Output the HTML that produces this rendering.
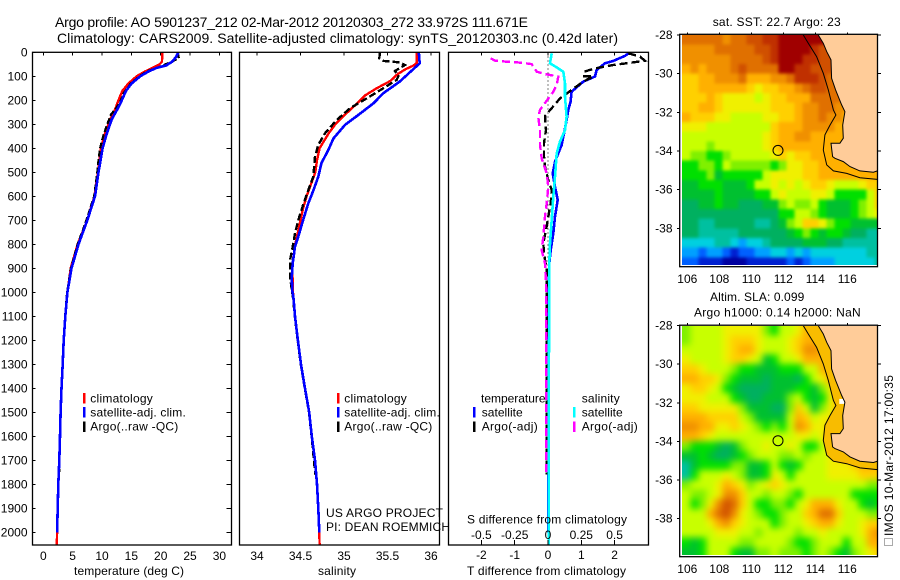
<!DOCTYPE html>
<html>
<head>
<meta charset="utf-8">
<title>Argo profile 5901237_212</title>
<style>
html,body{margin:0;padding:0;background:#fff;}
svg{display:block;}
text{font-family:"Liberation Sans",Arial,sans-serif;font-size:12px;fill:#000;}
.ttl{font-size:14px;}
</style>
</head>
<body>
<svg id="fig" xmlns="http://www.w3.org/2000/svg" width="900" height="580" viewBox="0 0 900 580">
<defs>
<clipPath id="clip1"><rect x="682" y="35" width="195.5" height="230"/></clipPath>
<clipPath id="clip2"><rect x="682" y="326" width="195.5" height="229"/></clipPath>
<clipPath id="clipT"><rect x="32" y="52" width="200" height="493"/></clipPath>
<clipPath id="clipS"><rect x="239" y="52" width="200" height="493"/></clipPath>
<clipPath id="clipD"><rect x="448" y="52" width="200" height="493"/></clipPath>
<filter id="blurSst" filterUnits="userSpaceOnUse" x="650" y="0" width="250" height="300" color-interpolation-filters="sRGB"><feGaussianBlur stdDeviation="1.6"/></filter>
<filter id="blurSla" filterUnits="userSpaceOnUse" x="650" y="290" width="250" height="290" color-interpolation-filters="sRGB"><feGaussianBlur stdDeviation="3.4"/></filter>
</defs>
<rect width="900" height="580" fill="#fff"/>

<text class="ttl" x="55" y="27" textLength="473">Argo profile: AO 5901237_212 02-Mar-2012 20120303_272 33.972S 111.671E</text>
<text class="ttl" x="57" y="43" textLength="561">Climatology: CARS2009. Satellite-adjusted climatology: synTS_20120303.nc (0.42d later)</text>

<g id="maps"></g>
<g id="panels"></g>

<text x="74" y="575" textLength="110">temperature (deg C)</text>
<text x="318" y="575" textLength="38">salinity</text>
<text x="467" y="575" textLength="159">T difference from climatology</text>
<text x="467" y="523.5" textLength="160">S difference from climatology</text>

<g>
<rect x="83" y="393" width="2.5" height="10.5" fill="#f00"/>
<rect x="83" y="407" width="2.5" height="10.5" fill="#00f"/>
<rect x="83" y="421.5" width="2.5" height="10.5" fill="#000"/>
<text x="90.3" y="402.5" textLength="62.5">climatology</text>
<text x="90.3" y="416.5" textLength="95.5">satellite-adj. clim.</text>
<text x="90.3" y="430.5" textLength="88">Argo(..raw -QC)</text>
</g>
<g>
<rect x="337" y="393" width="2.5" height="10.5" fill="#f00"/>
<rect x="337" y="407" width="2.5" height="10.5" fill="#00f"/>
<rect x="337" y="421.5" width="2.5" height="10.5" fill="#000"/>
<text x="344.3" y="402.5" textLength="62.5">climatology</text>
<text x="344.3" y="416.5" textLength="95.5">satellite-adj. clim.</text>
<text x="344.3" y="430.5" textLength="88">Argo(..raw -QC)</text>
</g>
<g>
<text x="481" y="402.5" textLength="64.5">temperature</text>
<text x="581.7" y="402.5" textLength="38">salinity</text>
<rect x="473" y="407" width="2.5" height="10.5" fill="#00f"/>
<rect x="473" y="421.5" width="2.5" height="10.5" fill="#000"/>
<rect x="573" y="407" width="2.5" height="10.5" fill="#0ff"/>
<rect x="573" y="421.5" width="2.5" height="10.5" fill="#f0f"/>
<text x="481.7" y="416.5" textLength="41">satellite</text>
<text x="481.7" y="430.5" textLength="56">Argo(-adj)</text>
<text x="581.7" y="416.5" textLength="41">satellite</text>
<text x="581.7" y="430.5" textLength="56">Argo(-adj)</text>
</g>

<text x="326" y="517" textLength="117">US ARGO PROJECT</text>
<text x="326" y="531" textLength="124">PI: DEAN ROEMMICH</text>

<text x="712.7" y="26" textLength="128">sat. SST: 22.7 Argo: 23</text>
<text x="710" y="301" textLength="94.3">Altim. SLA: 0.099</text>
<text x="694" y="316.5" textLength="166.7">Argo h1000: 0.14 h2000: NaN</text>

<rect x="884.5" y="538.5" width="8" height="7" fill="none" stroke="#555" stroke-width="1" stroke-dasharray="1 1"/>
<text transform="translate(893 536) rotate(-90)" x="0" y="0" textLength="161">IMOS 10-Mar-2012 17:00:35</text>

<script>
// ---------- profile data (depth in dbar) ----------
const tempClimDepth = [0,40,50,60,80,100,130,160,200,240,280,340,400,500,600,700,800,900,1000,1100,1200,1300,1400,1500,1600,1700,1800,1900,2000,2053];
const tempClim = [20.3,20.2,19.8,19.0,17.3,15.9,14.5,13.5,12.8,12.2,11.4,10.5,9.8,9.3,8.7,7.5,5.85,4.66,4.1,3.75,3.47,3.3,3.1,2.95,2.85,2.75,2.55,2.45,2.35,2.3];
const tempSatDepth = [0,20,40,55,65,80,100,130,160,220,280,340,400,500,600,700,800,900,1000,1100,1200,1300,1400,1500,1600,1700,1800,1900,2000];
const tempSat = [23.0,22.6,21.9,20.9,19.3,17.9,16.5,15.05,14.1,13.0,11.65,10.8,10.1,9.4,8.8,7.5,6.0,4.8,4.1,3.75,3.47,3.3,3.1,2.95,2.85,2.72,2.55,2.45,2.35];
const tempArgoDepth = [0,25,45,60,80,100,130,170,200,230,260,340,400,450,500,600,700,800,900,1000,1100,1200,1300,1400,1500,1600,1760];
const tempArgo = [22.9,23.1,21.3,19.9,17.6,16.4,14.9,13.7,13.2,12.5,11.5,10.3,9.66,9.4,9.2,8.65,7.35,5.85,4.7,4.05,3.72,3.45,3.3,3.1,2.95,2.82,2.7];

const salClimDepth = [0,45,55,70,90,120,150,180,220,260,300,340,400,450,500,540,600,650,700,800,850,900,1000,1030,1100,1200,1300,1400,1500,1600,1700,1800,1900,2000,2053];
const salClim = [35.835,35.835,35.8,35.71,35.62,35.53,35.375,35.24,35.13,35.01,34.9,34.82,34.72,34.69,34.67,34.63,34.57,34.53,34.5,34.44,34.42,34.406,34.414,34.42,34.437,34.47,34.506,34.552,34.6,34.63,34.667,34.69,34.705,34.716,34.72];
const salSatDepth = [0,46,122,171,212,261,303,358,407,462,518,574,629,699,768,810,879,935,990,1025,1100,1200,1300,1400,1500,1600,1700,1800,1900,2000];
const salSat = [35.86,35.87,35.64,35.45,35.34,35.165,35.01,34.88,34.82,34.74,34.705,34.65,34.59,34.53,34.475,34.437,34.41,34.40,34.405,34.42,34.437,34.47,34.506,34.552,34.6,34.63,34.667,34.69,34.705,34.716];
const salArgoDepth = [0,25,36,42,53,78,99,115,150,192,233,282,338,386,435,518,574,636,699,754,810,865,935,990,1025,1100,1200,1300,1400,1500,1600,1760];
const salArgo = [35.414,35.406,35.452,35.644,35.70,35.586,35.625,35.605,35.452,35.26,35.07,34.916,34.78,34.705,34.667,34.647,34.59,34.53,34.475,34.437,34.41,34.38,34.38,34.40,34.415,34.435,34.468,34.504,34.55,34.598,34.628,34.67];

const dTSatDepth = [1,15,36,46,74,101,122,164,206,240,282,338,386,421,456,504,560,615,685,754,824,879,1060,1300,1600,2000];
const dTSat = [2.46,2.31,1.96,1.71,1.46,1.41,1.06,0.71,0.68,0.61,0.56,0.48,0.41,0.31,0.21,0.14,0.21,0.29,0.21,0.16,0.08,0.04,0.01,0.01,0.02,0.01];
const dTArgoDepth = [4,18,35,42,53,67,81,99,101,122,157,192,233,265,324,379,435,476,532,574,629,685,740,796,838,907,1060,1300,1760];
const dTArgo = [2.41,2.76,2.91,2.56,1.96,1.41,1.08,1.08,1.36,1.06,0.71,0.36,0.11,-0.09,-0.06,-0.12,-0.12,-0.09,0.01,0.11,0.08,0.01,-0.06,-0.14,-0.12,-0.04,-0.04,-0.04,-0.04];
const dSSatDepth = [4,46,63,81,130,185,268,324,372,421,518,601,699,796,879,1060,1400,2053];
const dSSat = [0.0275,0.015,0.065,0.115,0.1275,0.1275,0.14,0.1275,0.09,0.065,0.0525,0.04,0.0275,0.015,0.01,0.01,0.005,0.005];
const dSArgoDepth = [25,35,39,43,49,81,92,101,136,164,206,240,271,324,386,442,504,560,629,685,768,824,879,963,1060,1400,1760];
const dSArgo = [-0.43,-0.3975,-0.31,-0.21,-0.1225,-0.085,-0.01,0.0775,0.065,0.04,-0.015,-0.06,-0.0725,-0.06,-0.06,-0.0475,-0.01,0.0025,-0.01,-0.0225,-0.035,-0.0475,-0.0225,-0.015,-0.012,-0.012,-0.012];
const zeroLineDepth = [0,2053];
const zeroLine = [0,0];

// ---------- tick labels ----------
const depthTicks = [0,100,200,300,400,500,600,700,800,900,1000,1100,1200,1300,1400,1500,1600,1700,1800,1900,2000];
const tempTicks = [0,5,10,15,20,25,30];
const salTicks = [34,34.5,35,35.5,36];
const dTTicks = [-2,-1,0,1,2];
const dSTicks = [-0.5,-0.25,0,0.25,0.5];
const dSTickLabels = ["-0.5","-0.25","0","0.25","0.5"];
const lonTicks = [106,108,110,112,114,116];
const latTicks = [-28,-30,-32,-34,-36,-38];

// ---------- map data: cell levels on a 0.5 degree grid, north to south ----------
const colorLevels = ["#0000a0","#0020d0","#0060ff","#00a0ff","#00d0e0","#00c0a0","#00b060","#00c030","#00e000","#80f000","#c8ff00","#f0f000","#ffd000","#ffb000","#f09000","#e07000","#d05000","#c03000","#a00000"];
const sstRows = [
[15,15,15,15,15,14,15,15,16,16,17,17,18,18,18,18,18,18],
[14,14,14,14,15,15,15,15,15,16,16,17,18,18,18,18,17,16,16],
[14,14,14,14,14,14,15,15,15,15,16,17,18,18,18,17,17,16,16],
[13,14,13,14,14,14,15,16,15,15,15,15,18,18,17,17,16,16,16],
[12,12,13,13,14,14,14,15,13,13,13,14,14,15,17,17,17,16,15,15],
[12,12,13,13,13,13,13,13,12,11,12,12,13,13,14,15,16,16,15,15],
[12,12,12,13,12,11,11,11,11,10,11,12,12,13,13,13,15,15,15,15,14],
[12,12,13,13,12,11,11,11,11,11,11,12,12,12,13,14,14,15,15,14,14],
[13,12,12,12,11,11,10,10,10,10,11,11,12,12,13,14,14,15,14,14,13],
[11,11,11,10,10,10,10,10,10,10,10,12,13,13,13,14,14,14,14,13,13],
[10,10,10,10,10,10,10,10,10,10,11,12,13,13,14,14,13,13,13,13,13],
[10,10,10,9,10,10,10,10,10,10,11,12,13,13,13,13,13,13,13,13,13],
[10,9,9,8,8,9,10,10,10,10,10,11,12,11,12,12,13,13,13,13,13,13],
[8,8,9,9,8,10,9,9,9,9,9,8,9,11,11,12,12,13,13,13,13,13,13],
[8,8,8,9,7,8,8,8,8,8,10,11,11,11,11,12,12,13,13,13,13,13,13,13,13],
[7,7,8,8,8,7,7,7,8,10,10,11,10,11,10,11,12,12,11,10,10,10,11,12,12],
[7,7,7,7,8,7,7,7,7,8,8,10,11,10,10,10,11,11,10,8,8,8,8,10,12],
[6,6,7,7,8,7,7,6,6,6,7,7,9,10,9,9,10,8,7,7,7,8,9,10,12],
[6,6,6,6,6,6,6,6,6,6,6,6,8,8,10,10,9,8,7,7,7,8,9,10,11],
[6,6,5,5,6,6,6,6,6,5,5,6,7,9,10,12,12,11,9,8,8,7,7,7,7],
[6,6,5,5,5,5,5,6,6,6,6,6,6,7,8,9,8,7,8,8,7,6,6,5,5],
[4,4,4,4,5,5,4,3,4,4,5,6,6,6,6,7,7,7,6,6,5,5,5,5,5],
[3,3,2,3,3,2,1,2,2,3,3,4,4,3,4,3,4,4,4,4,4,4,4,5,5],
[2,2,1,1,1,0,0,0,1,1,1,1,1,2,1,2,3,3,3,4,4,4,4,4,5]
];
const slaRows = [
[9,10,10,10,10,11,11,11,11,11,9,8,10,10,11,13,13,13,13],
[9,10,10,10,10,11,12,12,12,11,10,10,10,11,12,13,13,13],
[10,10,10,10,10,11,12,13,13,11,10,10,10,11,12,14,14,13,13],
[11,10,10,10,10,11,12,12,11,10,7,8,10,10,11,13,13,13,13],
[12,12,11,10,10,10,9,8,8,7,7,7,8,8,8,10,10,13,13,13],
[13,13,12,12,11,9,8,7,7,7,6,7,7,7,6,8,10,11,13,13,13],
[11,12,12,11,10,8,7,6,6,6,6,7,7,7,8,8,7,9,11,13,13],
[11,11,11,10,10,10,8,7,6,6,7,7,7,9,10,8,7,8,11,13,13,13],
[12,12,11,11,11,11,11,9,7,7,7,6,6,9,12,10,7,9,11,13,13],
[13,13,13,12,12,12,12,10,9,7,7,7,7,10,13,12,10,11,11,13,13],
[14,14,13,13,11,11,12,11,10,9,8,9,8,10,14,13,11,11,13,13,13],
[13,13,12,11,10,10,10,10,10,10,10,10,10,10,11,11,10,11,13,13,13],
[9,8,8,8,7,6,7,9,10,10,11,10,10,11,10,8,8,10,11,13,13,13,13],
[7,7,8,7,6,6,7,8,9,10,10,10,9,9,10,9,10,10,11,12,13,13,13],
[5,7,8,8,8,8,9,9,7,7,8,10,8,7,8,10,10,10,11,11,11,12,13,13,13],
[5,8,10,10,10,11,10,9,7,7,8,11,10,8,10,10,10,10,11,11,11,11,12,12,12],
[9,10,10,10,11,13,12,11,9,10,11,12,11,10,10,10,10,10,10,10,10,10,10,9,9],
[10,9,9,10,11,14,14,12,10,10,9,10,10,9,8,10,10,10,10,10,10,8,8,8,8],
[10,8,9,11,14,16,15,12,10,8,8,9,9,8,10,11,13,13,13,11,10,10,8,7,8],
[10,10,10,13,15,16,14,11,10,9,8,8,9,10,10,12,13,15,15,12,10,10,10,9,9],
[10,10,10,11,13,14,12,11,10,10,10,8,9,10,10,11,12,13,13,11,10,10,11,12,12],
[10,10,10,10,11,11,11,10,10,9,10,10,10,10,9,10,10,11,10,10,10,10,11,13,14],
[8,7,8,10,10,10,10,9,9,10,10,10,10,9,8,8,9,10,10,10,8,10,10,13,13],
[7,7,8,10,10,10,8,7,7,9,9,10,9,9,9,8,9,10,9,8,7,9,10,11,12]
];
const coastLon = [114.19,114.5,114.71,114.98,115.02,115.27,115.65,115.85,115.71,115.75,115.54,114.98,115.08,115.23,115.75,116.17,116.79,117.63,117.88];
const coastLat = [-28,-28.43,-28.86,-29.29,-30.24,-30.84,-31.62,-31.97,-32.66,-33.34,-33.6,-33.6,-34.29,-34.38,-34.55,-34.81,-35.03,-35.1,-35.03];
const shelfLon = [113.25,113.56,114.08,114.5,114.81,115.13,115.29,114.92,114.6,114.5,114.71,115.13,115.96,116.79,117.88];
const shelfLat = [-28,-28.43,-29.12,-29.98,-30.84,-31.88,-32.14,-32.66,-33.17,-33.95,-34.72,-35.03,-35.16,-35.38,-35.47];
const floatLon = 111.67;
const floatLat = -33.97;

// ---------- axis functions ----------
const NS = "http://www.w3.org/2000/svg";
const yD = d => 52.3 + 0.24 * d;
const xT = v => 43.3 + 5.87 * v;
const xS = v => 257 + 87 * (v - 34);
const xDT = v => 548 + 33.3 * v;
const xDS = v => 548 + 133.2 * v;
const LON0 = 105.7;
const CELL = 0.5;
const COLS = 25;
const lonX = lon => 687.3 + 16 * (lon - 106);

function mk(parent, tag, attrs, txt) {
  const el = document.createElementNS(NS, tag);
  for (const k in attrs) el.setAttribute(k, attrs[k]);
  if (txt !== undefined) el.textContent = txt;
  parent.appendChild(el);
  return el;
}
function seg(parent, name, x1, y1, x2, y2) {
  const el = mk(parent, "line", {x1: x1, y1: y1, x2: x2, y2: y2, stroke: "#000", "stroke-width": 1, "shape-rendering": "crispEdges"});
  
  
}
function label(parent, name, x, y, s, anchor) {
  const el = mk(parent, "text", {x: x, y: y, "text-anchor": anchor}, s);
  
  
}
function series(parent, name, depths, vals, xf, color, width, dash, clip) {
  const pts = depths.map((d, i) => xf(vals[i]).toFixed(1) + "," + yD(d).toFixed(1)).join(" ");
  const el = mk(parent, "polyline", {points: pts, fill: "none", stroke: color, "stroke-width": width, "clip-path": "url(#" + clip + ")", "shape-rendering": "crispEdges"});
  if (dash) el.setAttribute("stroke-dasharray", dash);
  
  
}
function frame(parent, name, x, y, w, h) {
  const el = mk(parent, "rect", {x: x, y: y, width: w, height: h, fill: "none", stroke: "#000", "stroke-width": 1.3});
  
  
}

// ---------- profile panels ----------
const panels = document.getElementById("panels");
const TOP = 52.3, BOT = 545;

// temperature panel
series(panels, "temperature-climatology-line", tempClimDepth, tempClim, xT, "#f00", 2.4, null, "clipT");
series(panels, "temperature-argo-line", tempArgoDepth, tempArgo, xT, "#000", 2.2, "6 2.5", "clipT");
series(panels, "temperature-satellite-line", tempSatDepth, tempSat, xT, "#00f", 2.6, null, "clipT");
frame(panels, "temperature-panel-frame", 32.5, TOP, 199, BOT - TOP);
depthTicks.forEach(d => {
  seg(panels, "depth-tick-left", 32.5, yD(d), 35.5, yD(d));
  seg(panels, "depth-tick-right", 226.5, yD(d), 231.5, yD(d));
  label(panels, "depth-tick-label", 27.5, yD(d) + 4, String(d), "end");
});
tempTicks.forEach(v => {
  seg(panels, "temperature-tick", xT(v), TOP, xT(v), TOP + 3);
  label(panels, "temperature-tick-label", xT(v), 560, String(v), "middle");
});

// salinity panel
series(panels, "salinity-climatology-line", salClimDepth, salClim, xS, "#f00", 2.4, null, "clipS");
series(panels, "salinity-argo-line", salArgoDepth, salArgo, xS, "#000", 2.4, "7 3", "clipS");
series(panels, "salinity-satellite-line", salSatDepth, salSat, xS, "#00f", 2.6, null, "clipS");
frame(panels, "salinity-panel-frame", 239.5, TOP, 200, BOT - TOP);
salTicks.forEach(v => {
  seg(panels, "salinity-tick", xS(v), TOP, xS(v), TOP + 3);
  label(panels, "salinity-tick-label", xS(v), 560, String(v), "middle");
});

// difference panel
series(panels, "zero-reference-line", zeroLineDepth, zeroLine, xDT, "#000", 1, "1 3", "clipD");
series(panels, "t-difference-satellite-line", dTSatDepth, dTSat, xDT, "#00f", 2.6, null, "clipD");
series(panels, "t-difference-argo-line", dTArgoDepth, dTArgo, xDT, "#000", 2.4, "8 4", "clipD");
series(panels, "s-difference-argo-line", dSArgoDepth, dSArgo, xDS, "#f0f", 2.4, "8 4", "clipD");
series(panels, "s-difference-satellite-line", dSSatDepth, dSSat, xDS, "#0ff", 2.6, null, "clipD");
frame(panels, "difference-panel-frame", 448.5, TOP, 200, BOT - TOP);
dTTicks.forEach(v => {
  seg(panels, "t-difference-tick-top", xDT(v), TOP, xDT(v), TOP + 3);
  seg(panels, "t-difference-tick-bottom", xDT(v), BOT - 5, xDT(v), BOT);
  label(panels, "t-difference-tick-label", xDT(v), 559, String(v), "middle");
});
dSTicks.forEach((v, i) => {
  label(panels, "s-difference-tick-label", xDS(v), 539, dSTickLabels[i], "middle");
});

// ---------- maps ----------
const maps = document.getElementById("maps");
function drawMap(prefix, rows, y0, yScale, frameTop, frameBot, clip, blur, shelfFill) {
  const latY = lat => y0 + yScale * (-28 - lat);
  const g = mk(maps, "g", {"clip-path": "url(#" + clip + ")"});
  
  
  const img = mk(g, "g", {filter: "url(#" + blur + ")"});
  
  
  const PAD = 14;
  rows.forEach((row, j) => {
    for (let i = 0; i < COLS; i++) {
      const lvl = i < row.length ? row[i] : row[row.length - 1];
      const lon = LON0 + i * CELL;
      const lat = -28 - j * CELL;
      let x = lonX(lon), y = latY(lat), w = 16 * CELL + 0.4, h = yScale * CELL + 0.4;
      if (i === 0) { x -= PAD; w += PAD; }
      if (i === COLS - 1) { w += PAD; }
      if (j === 0) { y -= PAD; h += PAD; }
      if (j === rows.length - 1) { h += PAD; }
      const c = mk(img, "rect", {x: x.toFixed(2), y: y.toFixed(2), width: w.toFixed(2), height: h.toFixed(2), fill: colorLevels[lvl], "shape-rendering": "crispEdges"});
      
      
    }
  });
  const toPts = (lons, lats) => lons.map((l, i) => lonX(l).toFixed(1) + "," + latY(lats[i]).toFixed(1));
  const coastPts = toPts(coastLon, coastLat);
  const shelfPts = toPts(shelfLon, shelfLat);
  if (shelfFill) {
    const shelf = mk(g, "polygon", {points: shelfPts.concat(coastPts.slice().reverse()).join(" "), fill: shelfFill});
    
    
  }
  const corner1 = lonX(117.9).toFixed(1) + "," + latY(-28 + 0.1).toFixed(1);
  const corner2 = lonX(coastLon[0]).toFixed(1) + "," + latY(-28 + 0.1).toFixed(1);
  const land = mk(g, "polygon", {points: coastPts.join(" ") + " " + corner1 + " " + corner2, fill: "#ffcc99"});
  
  
  if (shelfFill) {
    const gap = mk(g, "rect", {x: (lonX(115.5)).toFixed(1), y: (latY(-31.8)).toFixed(1), width: 5, height: 5, fill: "#fff"});
    
    
  }
  const coast = mk(g, "polyline", {points: coastPts.join(" "), fill: "none", stroke: "#000", "stroke-width": 1});
  
  
  const iso = mk(g, "polyline", {points: shelfPts.join(" "), fill: "none", stroke: "#000", "stroke-width": 1});
  
  
  const dot = mk(maps, "circle", {cx: lonX(floatLon).toFixed(1), cy: latY(floatLat).toFixed(1), r: 5, fill: "none", stroke: "#000", "stroke-width": 1});
  
  
  frame(maps, prefix + "-frame", 679.7, frameTop, 197.8, frameBot - frameTop);
  lonTicks.forEach(v => {
    seg(maps, prefix + "-lon-tick", lonX(v), frameTop - 2, lonX(v), frameTop);
    label(maps, prefix + "-lon-label", lonX(v), frameBot + 16.5, String(v), "middle");
  });
  latTicks.forEach(v => {
    seg(maps, prefix + "-lat-tick-left", 677, latY(v), 680, latY(v));
    seg(maps, prefix + "-lat-tick-right", 877.5, latY(v), 881, latY(v));
    label(maps, prefix + "-lat-label", 672.5, latY(v) + 4, String(v), "end");
  });
}
drawMap("sst-map", sstRows, 35, 19.33, 34.3, 266.7, "clip1", "blurSst", null);
drawMap("sla-map", slaRows, 325.7, 19.27, 325.2, 556.7, "clip2", "blurSla", "#f8bc00");
</script>
</svg>
</body>
</html>
